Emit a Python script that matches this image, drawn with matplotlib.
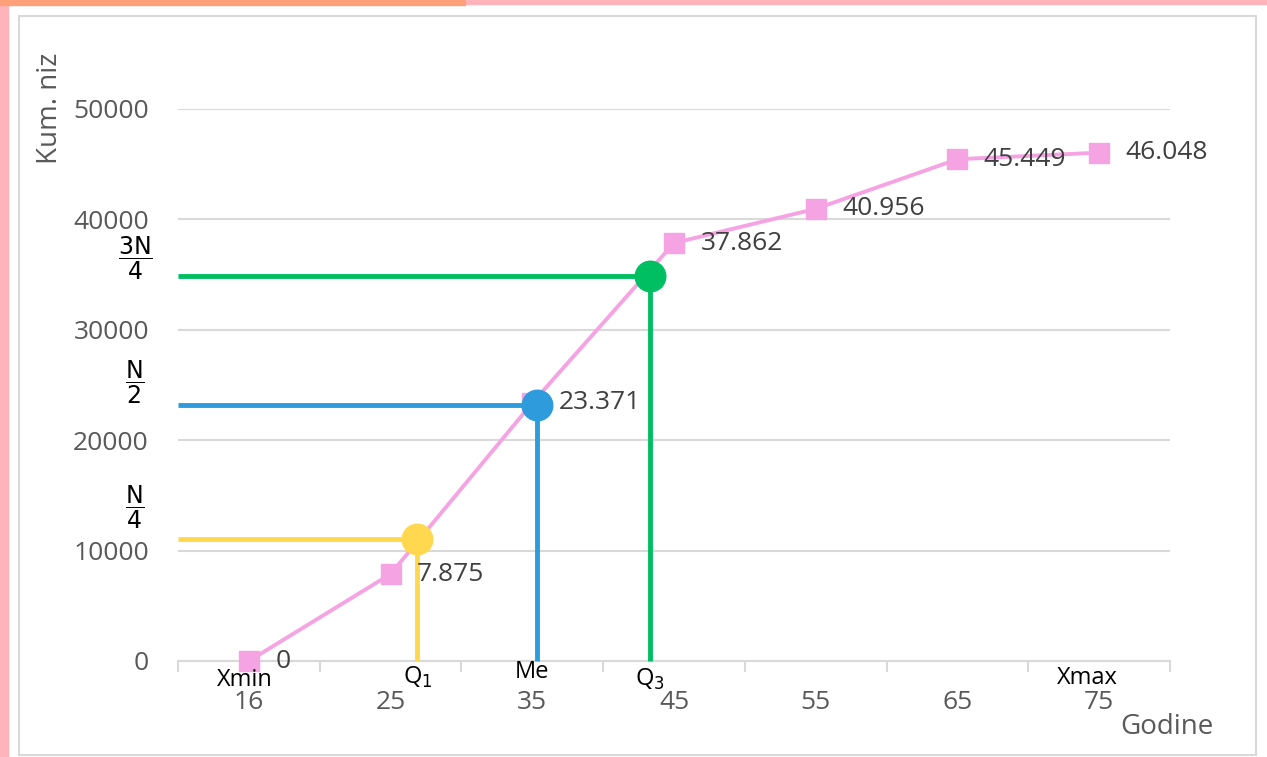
import matplotlib.pyplot as plt
from matplotlib.patches import Rectangle

# kumulativni niz po godinama
godine = ['16', '25', '35', '45', '55', '65', '75']
kum_niz = [0, 7875, 23371, 37862, 40956, 45449, 46048]
oznake = ['0', '7.875', '23.371', '37.862', '40.956', '45.449', '46.048']

# kvartili (ocitano sa slike): polozaj na osi x (indeks kategorije) i vrijednost
kv_x = [1.19, 2.03, 2.83]
kv_y = [11050, 23200, 34880]
kv_boje = ['#FFD84F', '#2E9BDC', '#00BF63']
kv_oznake_y = [r'$\dfrac{\mathrm{N}}{\mathrm{4}}$', r'$\dfrac{\mathrm{N}}{\mathrm{2}}$', r'$\dfrac{\mathrm{3N}}{\mathrm{4}}$']
kv_pomak = [23, 16, 13]  # koliko iznad linije stoji razlomak (pt)
x_oznake = [(-0.03, 'Xmin', -14), (1.19, r'Q$_\mathrm{1}$', -12), (2.0, 'Me', -8), (2.83, r'Q$_\mathrm{3}$', -13),
            (5.92, 'Xmax', -12)]

plt.rcParams['font.family'] = ['Open Sans', 'DejaVu Sans']
plt.rcParams['mathtext.fontset'] = 'dejavusans'

fig = plt.figure(figsize=(12.67, 7.57), dpi=100)
fig.patch.set_facecolor('white')

# okvir slike
W, H = 1267, 757
fig.patches.append(Rectangle((0, 0), 8 / W, 1, transform=fig.transFigure, color='#FFB4BC', zorder=0))
fig.patches.append(Rectangle((0, 1 - 4 / H), 1, 4 / H, transform=fig.transFigure, color='#FFB4BC', zorder=0))
fig.patches.append(Rectangle((0, 1 - 5 / H), 465 / W, 5 / H, transform=fig.transFigure, color='#FFA07A', zorder=0))
fig.patches.append(Rectangle((19 / W, 2 / H), 1237 / W, 1 - 18 / H, transform=fig.transFigure,
                             fill=False, edgecolor='#D9D9D9', lw=1.5, zorder=0))

ax = fig.add_axes([178 / W, 1 - 661 / H, (1170 - 178) / W, (661 - 109) / H])
ax.set_facecolor('none')

x = list(range(len(godine)))
ax.plot(x, kum_niz, color='#F5A3E3', lw=2.8, marker='s', markersize=14, zorder=3, clip_on=False)

for xi, yi, t in zip(x, kum_niz, oznake):
    ax.annotate(t, (xi, yi), xytext=(19, 0), textcoords='offset points', va='center', ha='left',
                fontsize=19, color='#404040', zorder=5)

for qx, qy, c in zip(kv_x, kv_y, kv_boje):
    ax.plot([-0.5, qx], [qy, qy], color=c, lw=3.5, zorder=4, clip_on=False, solid_capstyle='butt')
    ax.plot([qx, qx], [qy, 0], color=c, lw=3.5, zorder=4, clip_on=False, solid_capstyle='butt')
    ax.plot(qx, qy, 'o', color=c, markersize=22, zorder=6, clip_on=False)

ax.set_xlim(-0.5, 6.5)
ax.set_ylim(0, 50000)
ax.set_yticks(range(0, 50001, 10000))
ax.set_yticklabels([str(v) for v in range(0, 50001, 10000)], fontsize=19, color='#595959')
ax.tick_params(axis='y', length=0, pad=21)
ax.grid(axis='y', color='#D9D9D9', lw=1.5)
ax.set_axisbelow(True)

ax.set_xticks(x)
ax.set_xticklabels(godine, fontsize=19, color='#595959')
ax.set_xticks([i - 0.5 for i in range(len(godine) + 1)], minor=True)
ax.tick_params(axis='x', which='major', length=0, pad=21)
ax.tick_params(axis='x', which='minor', length=8, color='#D9D9D9', width=1.5)

for s in ['top', 'right', 'left']:
    ax.spines[s].set_visible(False)
ax.spines['bottom'].set_color('#D9D9D9')
ax.spines['bottom'].set_linewidth(1.5)

# rukom dopisane oznake
for xv, t, p in x_oznake:
    ax.annotate(t, (xv, 0), xytext=(0, p), textcoords='offset points', ha='center', va='center',
                fontsize=17, color='black', zorder=7)
for qy, t, p in zip(kv_y, kv_oznake_y, kv_pomak):
    ax.annotate(t, (-0.5, qy), xytext=(-31, p), textcoords='offset points', ha='center', va='center',
                fontsize=17, color='black')

fig.text(50 / W, 1 - 108 / H, 'Kum. niz', rotation=90, ha='center', va='center', fontsize=20, color='#595959')
fig.text(1167 / W, 1 - 727 / H, 'Godine', ha='center', va='center', fontsize=20, color='#595959')

fig.savefig('out.png', dpi=100)
